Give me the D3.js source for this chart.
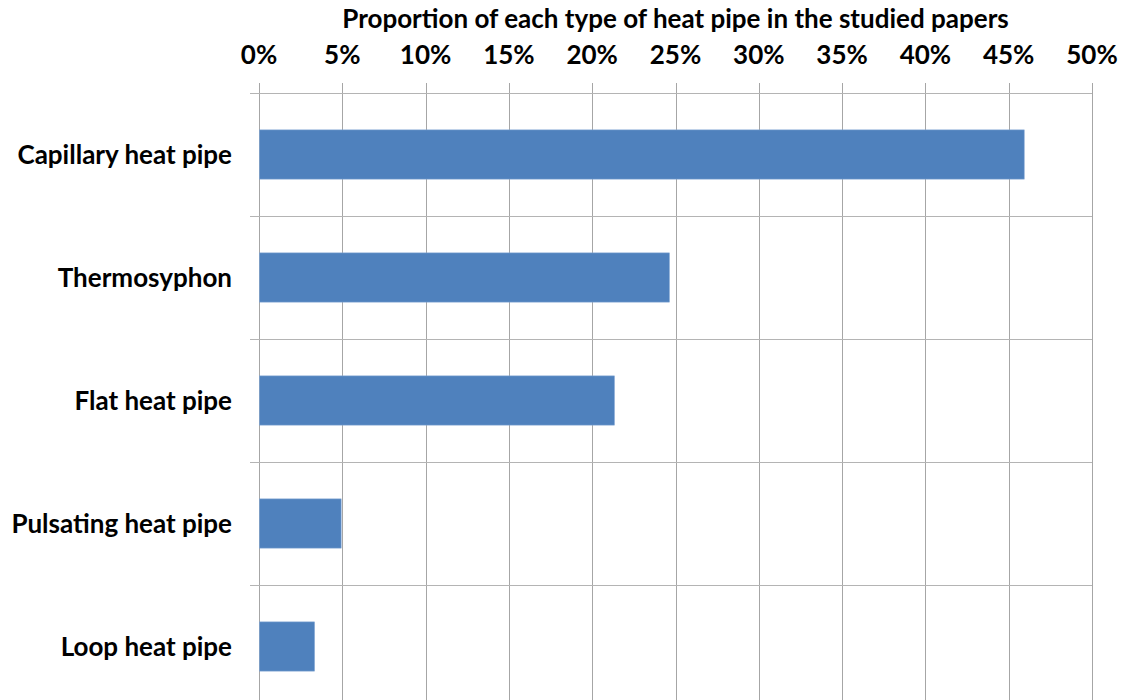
<!DOCTYPE html>
<html>
<head>
<meta charset="utf-8">
<script src="https://cdn.jsdelivr.net/npm/d3@7"></script>
<style>
  body { margin: 0; background: #fff; }
  text { font-family: Lato, "Open Sans", sans-serif; font-weight: bold; fill: #000; }
</style>
</head>
<body>
<svg id="chart"></svg>
<script>
const categories = ["Capillary heat pipe", "Thermosyphon", "Flat heat pipe", "Pulsating heat pipe", "Loop heat pipe"];
const shares = [45.9, 24.6, 21.3, 4.9, 3.3];
const tickValues = [0, 5, 10, 15, 20, 25, 30, 35, 40, 45, 50];
const title = "Proportion of each type of heat pipe in the studied papers";

const width = 1123, height = 700;
const margin = { top: 93, left: 259, right: 31 };
const bandStep = 123;

const svg = d3.select("#chart").attr("width", width).attr("height", height);

const x = d3.scaleLinear().domain([0, 50]).range([margin.left, width - margin.right]);
const y = d3.scaleBand()
    .domain(categories)
    .range([margin.top, margin.top + bandStep * categories.length])
    .paddingInner(0.6)
    .paddingOuter(0.3);

// vertical gridlines with small tick stubs above the plot
svg.append("g")
    .selectAll("line")
    .data(tickValues)
    .join("line")
    .attr("x1", d => Math.round(x(d)) + 0.5)
    .attr("x2", d => Math.round(x(d)) + 0.5)
    .attr("y1", margin.top - 10)
    .attr("y2", height)
    .attr("stroke", "#a6a6a6")
    .attr("stroke-width", 1);

// horizontal band separators (category ticks)
const bounds = d3.range(categories.length).map(i => margin.top + bandStep * i);
svg.append("g")
    .selectAll("line")
    .data(bounds)
    .join("line")
    .attr("x1", margin.left - 9)
    .attr("x2", x(50))
    .attr("y1", d => Math.round(d) + 0.5)
    .attr("y2", d => Math.round(d) + 0.5)
    .attr("stroke", "#b4b4b4")
    .attr("stroke-width", 1);

// bars
svg.append("g")
    .selectAll("rect")
    .data(categories)
    .join("rect")
    .attr("x", x(0) + 0.5)
    .attr("y", d => y(d))
    .attr("width", (d, i) => x(shares[i]) - x(0))
    .attr("height", y.bandwidth())
    .attr("fill", "#4f81bd")
    .attr("stroke", "#7ea3d2")
    .attr("stroke-width", 0.6);

// category labels
svg.append("g")
    .selectAll("text")
    .data(categories)
    .join("text")
    .attr("x", 232)
    .attr("y", d => y(d) + y.bandwidth() / 2)
    .attr("dy", "0.35em")
    .attr("text-anchor", "end")
    .style("font-size", "26px")
    .text(d => d);

// top axis labels
svg.append("g")
    .selectAll("text")
    .data(tickValues)
    .join("text")
    .attr("x", d => x(d))
    .attr("y", 64)
    .attr("text-anchor", "middle")
    .style("font-size", "26px")
    .text(d => d + "%");

// title
svg.append("text")
    .attr("x", (x(0) + x(50)) / 2)
    .attr("y", 28)
    .attr("text-anchor", "middle")
    .style("font-size", "26px")
    .text(title);
</script>
</body>
</html>
